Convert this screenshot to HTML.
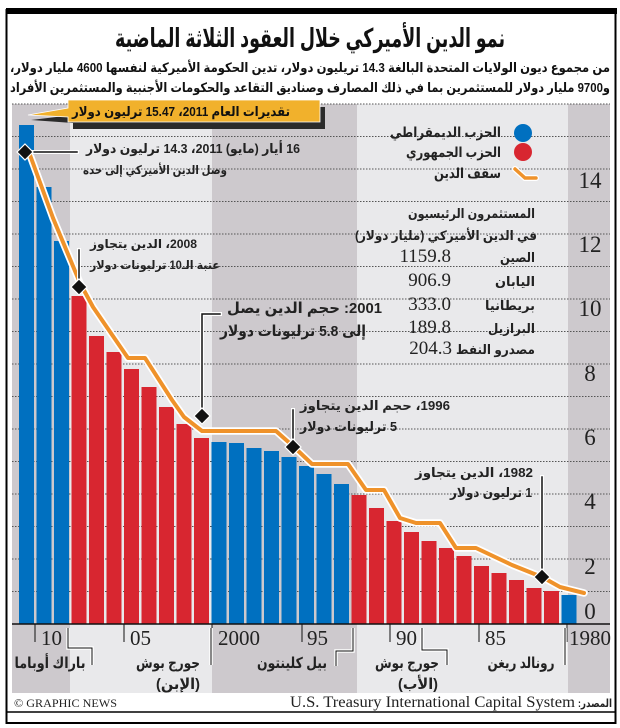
<!DOCTYPE html>
<html><head><meta charset="utf-8"><style>
html,body{margin:0;padding:0;background:#fff}
svg{display:block}
.ar{font-family:"Liberation Sans","Noto Sans CJK SC","DejaVu Sans",sans-serif;font-weight:bold}
.sr{font-family:"Liberation Serif",serif}
</style></head><body>
<svg width="620" height="728" viewBox="0 0 620 728" xmlns="http://www.w3.org/2000/svg">
<rect x="0" y="0" width="620" height="728" fill="#fff"/>
<rect x="6.5" y="10" width="609" height="713" fill="none" stroke="#000" stroke-width="2"/>
<rect x="6" y="8" width="611" height="6" fill="#000"/>
<line x1="6" y1="712" x2="616" y2="712" stroke="#000" stroke-width="1.5"/>

<text x="310" y="47" text-anchor="middle" class="ar" font-size="26" fill="#111" textLength="390" lengthAdjust="spacingAndGlyphs">نمو الدين الأميركي خلال العقود الثلاثة الماضية</text>
<text x="310" y="72" text-anchor="middle" class="ar" font-size="13" fill="#111" direction="rtl" textLength="600" lengthAdjust="spacingAndGlyphs">من مجموع ديون الولايات المتحدة البالغة 14.3 تريليون دولار، تدين الحكومة الأميركية لنفسها 4600 مليار دولار،</text>
<text x="310" y="92" text-anchor="middle" class="ar" font-size="13" fill="#111" direction="rtl" textLength="600" lengthAdjust="spacingAndGlyphs">و9700 مليار دولار للمستثمرين بما في ذلك المصارف وصناديق التقاعد والحكومات الأجنبية والمستثمرين الأفراد</text>

<rect x="12" y="104" width="58" height="589" fill="#cdc9cd"/>
<rect x="70" y="104" width="142" height="589" fill="#e9e9eb"/>
<rect x="212" y="104" width="145" height="589" fill="#cdc9cd"/>
<rect x="357" y="104" width="211" height="589" fill="#e9e9eb"/>
<rect x="568" y="104" width="42" height="589" fill="#cdc9cd"/>
<line x1="12" y1="104" x2="610" y2="104" stroke="#555" stroke-width="1" stroke-dasharray="1.5,1.5"/>

<g stroke="#555" stroke-width="1" stroke-dasharray="1.5,1.5">
<line x1="12" y1="591.5" x2="610" y2="591.5"/><line x1="12" y1="559" x2="610" y2="559"/>
<line x1="12" y1="526.5" x2="610" y2="526.5"/><line x1="12" y1="494" x2="610" y2="494"/>
<line x1="12" y1="461.5" x2="610" y2="461.5"/><line x1="12" y1="429" x2="610" y2="429"/>
<line x1="12" y1="396.5" x2="610" y2="396.5"/><line x1="12" y1="364" x2="610" y2="364"/>
<line x1="12" y1="331.5" x2="610" y2="331.5"/><line x1="12" y1="299" x2="610" y2="299"/>
<line x1="12" y1="266.5" x2="610" y2="266.5"/><line x1="12" y1="234" x2="610" y2="234"/>
<line x1="12" y1="201.5" x2="610" y2="201.5"/><line x1="12" y1="169" x2="610" y2="169"/>
<line x1="12" y1="136.5" x2="610" y2="136.5"/>
</g>

<g>
<rect x="19" y="125" width="15" height="499" fill="#0070c0"/>
<rect x="36.5" y="187" width="15" height="437" fill="#0070c0"/>
<rect x="54" y="241" width="15" height="383" fill="#0070c0"/>
<rect x="71.5" y="296" width="15" height="328" fill="#d82630"/>
<rect x="89" y="336" width="15" height="288" fill="#d82630"/>
<rect x="106.5" y="352" width="15" height="272" fill="#d82630"/>
<rect x="124" y="369" width="15" height="255" fill="#d82630"/>
<rect x="141.5" y="387" width="15" height="237" fill="#d82630"/>
<rect x="159" y="407" width="15" height="217" fill="#d82630"/>
<rect x="176.5" y="424" width="15" height="200" fill="#d82630"/>
<rect x="194" y="438" width="15" height="186" fill="#d82630"/>
<rect x="211.5" y="442" width="15" height="182" fill="#0070c0"/>
<rect x="229" y="443" width="15" height="181" fill="#0070c0"/>
<rect x="246.5" y="448" width="15" height="176" fill="#0070c0"/>
<rect x="264" y="451" width="15" height="173" fill="#0070c0"/>
<rect x="281.5" y="457" width="15" height="167" fill="#0070c0"/>
<rect x="299" y="466" width="15" height="158" fill="#0070c0"/>
<rect x="316.5" y="474" width="15" height="150" fill="#0070c0"/>
<rect x="334" y="484" width="15" height="140" fill="#0070c0"/>
<rect x="351.5" y="495" width="15" height="129" fill="#d82630"/>
<rect x="369" y="508" width="15" height="116" fill="#d82630"/>
<rect x="386.5" y="521" width="15" height="103" fill="#d82630"/>
<rect x="404" y="532" width="15" height="92" fill="#d82630"/>
<rect x="421.5" y="541" width="15" height="83" fill="#d82630"/>
<rect x="439" y="548" width="15" height="76" fill="#d82630"/>
<rect x="456.5" y="556" width="15" height="68" fill="#d82630"/>
<rect x="474" y="566" width="15" height="58" fill="#d82630"/>
<rect x="491.5" y="573" width="15" height="51" fill="#d82630"/>
<rect x="509" y="580" width="15" height="44" fill="#d82630"/>
<rect x="526.5" y="588" width="15" height="36" fill="#d82630"/>
<rect x="544" y="591" width="15" height="33" fill="#d82630"/>
<rect x="561.5" y="595" width="15" height="29" fill="#0070c0"/>
</g>

<g fill="none" stroke-linejoin="round" stroke-linecap="round">
<polyline stroke="#fff" stroke-width="7.5" points="30,155 53,218 80,283 93,307 128,358 145,358 172,400 184,417 202,431 276,431 294,447 312,464 348,464 366,490 384,490 400,518 416,523 440,523 456,548 476,548 512,565 542,577 560,587 584,593"/>
<polyline stroke="#ef922a" stroke-width="4" points="30,155 53,218 80,283 93,307 128,358 145,358 172,400 184,417 202,431 276,431 294,447 312,464 348,464 366,490 384,490 400,518 416,523 440,523 456,548 476,548 512,565 542,577 560,587 584,593"/>
</g>

<g stroke-linecap="square">
<g stroke="#fff" stroke-width="4" fill="none">
<path d="M25 152 H77"/><path d="M79 287 V250"/><path d="M202 416 V314 H220"/><path d="M293 447 V410"/><path d="M542 577 V477"/>
</g>
<g stroke="#111" stroke-width="1.5" fill="none">
<path d="M25 152 H77"/><path d="M79 287 V250"/><path d="M202 416 V314 H220"/><path d="M293 447 V410"/><path d="M542 577 V477"/>
</g>
</g>
<g fill="#111" stroke="#fff" stroke-width="1.2">
<path d="M25 144 L33 152 L25 160 L17 152 Z"/>
<path d="M79 279 L87 287 L79 295 L71 287 Z"/>
<path d="M202 408 L210 416 L202 424 L194 416 Z"/>
<path d="M293 439 L301 447 L293 455 L285 447 Z"/>
<path d="M542 569 L550 577 L542 585 L534 577 Z"/>
</g>

<path d="M70 104 L322 104 L322 126 L70 126 L70 120 L28 117 L70 112 Z" fill="#2b2b2b" transform="translate(3,3)"/>
<path d="M68 100 L320 100 L320 122 L68 122 L68 117 L28 115 L68 108 Z" fill="#f1b12c" stroke="#fff" stroke-width="0.8"/>
<text x="290" y="116" text-anchor="start" direction="rtl" class="ar" font-size="13" fill="#111" textLength="218" lengthAdjust="spacingAndGlyphs">تقديرات العام 2011، 15.47 ترليون دولار</text>

<g class="ar" fill="#222" direction="rtl" text-anchor="start" lengthAdjust="spacingAndGlyphs">
<text x="300" y="153" font-size="13" textLength="214" lengthAdjust="spacingAndGlyphs">16 أيار (مايو) 2011، 14.3 ترليون دولار</text>
<text x="227" y="174" font-size="12" textLength="144" lengthAdjust="spacingAndGlyphs">وصل الدين الأميركي إلى حده</text>
<text x="197" y="248" font-size="12" textLength="107" lengthAdjust="spacingAndGlyphs">2008، الدين يتجاوز</text>
<text x="220" y="269" font-size="12" textLength="130" lengthAdjust="spacingAndGlyphs">عتبة الـ10 ترليونات دولار</text>
<text x="382" y="313" font-size="15" textLength="155" lengthAdjust="spacingAndGlyphs">2001: حجم الدين يصل</text>
<text x="366" y="336" font-size="15" textLength="146" lengthAdjust="spacingAndGlyphs">إلى 5.8 ترليونات دولار</text>
<text x="450" y="410" font-size="13" textLength="150" lengthAdjust="spacingAndGlyphs">1996، حجم الدين يتجاوز</text>
<text x="397" y="431" font-size="13" textLength="97" lengthAdjust="spacingAndGlyphs">5 ترليونات دولار</text>
<text x="533" y="477" font-size="13" textLength="118" lengthAdjust="spacingAndGlyphs">1982، الدين يتجاوز</text>
<text x="532" y="497" font-size="13" textLength="82" lengthAdjust="spacingAndGlyphs">1 ترليون دولار</text>
</g>

<circle cx="523" cy="133" r="9" fill="#0070c0"/>
<circle cx="523" cy="152" r="9" fill="#d82630"/>
<path d="M515 169 L525 178 L536 178" fill="none" stroke="#fff" stroke-width="6" stroke-linecap="round"/>
<path d="M515 169 L525 178 L536 178" fill="none" stroke="#ef922a" stroke-width="3.5" stroke-linecap="round"/>
<g class="ar" fill="#222" direction="rtl" text-anchor="start" font-size="14">
<text x="501" y="137" textLength="111" lengthAdjust="spacingAndGlyphs">الحزب الديمقراطي</text>
<text x="501" y="157" textLength="95" lengthAdjust="spacingAndGlyphs">الحزب الجمهوري</text>
<text x="501" y="178" textLength="67" lengthAdjust="spacingAndGlyphs">سقف الدين</text>
<text x="535" y="218" font-size="13" textLength="127" lengthAdjust="spacingAndGlyphs">المستثمرون الرئيسيون</text>
<text x="537" y="240" font-size="13" textLength="182" lengthAdjust="spacingAndGlyphs">في الدين الأميركي (مليار دولار)</text>
<text x="535" y="262" font-size="13" textLength="35" lengthAdjust="spacingAndGlyphs">الصين</text>
<text x="535" y="286" font-size="13" textLength="40" lengthAdjust="spacingAndGlyphs">اليابان</text>
<text x="535" y="310" font-size="13" textLength="50" lengthAdjust="spacingAndGlyphs">بريطانيا</text>
<text x="535" y="333" font-size="13" textLength="47" lengthAdjust="spacingAndGlyphs">البرازيل</text>
<text x="535" y="354" font-size="13" textLength="79" lengthAdjust="spacingAndGlyphs">مصدرو النفط</text>
</g>
<g class="sr" fill="#222" font-size="19" text-anchor="end">
<text x="451" y="262">1159.8</text>
<text x="451" y="286">906.9</text>
<text x="451" y="310">333.0</text>
<text x="451" y="333">189.8</text>
<text x="452" y="354">204.3</text>
</g>

<g class="sr" fill="#222" font-size="23" text-anchor="middle">
<text x="590" y="188">14</text><text x="590" y="252">12</text><text x="590" y="316">10</text>
<text x="590" y="381">8</text><text x="590" y="445">6</text><text x="590" y="509">4</text>
<text x="590" y="574">2</text><text x="590" y="619">0</text>
</g>

<line x1="12" y1="624" x2="610" y2="624" stroke="#111" stroke-width="1.5"/>
<g stroke="#111" stroke-width="1">
<line x1="35" y1="624" x2="35" y2="642"/><line x1="124" y1="624" x2="124" y2="642"/>
<line x1="212" y1="624" x2="212" y2="642"/><line x1="302" y1="624" x2="302" y2="642"/>
<line x1="390" y1="624" x2="390" y2="642"/><line x1="479" y1="624" x2="479" y2="642"/>
<line x1="567" y1="624" x2="567" y2="642"/>
</g>
<g class="sr" fill="#222" font-size="21">
<text x="41" y="645">10</text><text x="130" y="645">05</text><text x="218" y="645">2000</text>
<text x="307" y="645">95</text><text x="396" y="645">90</text><text x="485" y="645">85</text>
<text x="569" y="645">1980</text>
</g>
<g fill="none" stroke="#fff" stroke-width="3.5">
<path d="M68 628 V648 H92 V665"/><path d="M211 628 V665"/><path d="M353 628 V651 H336 V666"/><path d="M422 628 V650 H447 V665"/><path d="M565 628 V665"/>
</g>
<g fill="none" stroke="#111" stroke-width="1">
<path d="M68 628 V648 H92 V665"/><path d="M211 628 V665"/><path d="M353 628 V651 H336 V666"/><path d="M422 628 V650 H447 V665"/><path d="M565 628 V665"/>
</g>
<g class="ar" fill="#222" font-size="15" text-anchor="middle">
<text x="50" y="668" textLength="71" lengthAdjust="spacingAndGlyphs">باراك أوباما</text>
<text x="168" y="668" textLength="64" lengthAdjust="spacingAndGlyphs">جورج بوش</text>
<text x="178" y="689" textLength="44" lengthAdjust="spacingAndGlyphs">(الإبن)</text>
<text x="292" y="668" textLength="70" lengthAdjust="spacingAndGlyphs">بيل كلينتون</text>
<text x="407" y="668" textLength="64" lengthAdjust="spacingAndGlyphs">جورج بوش</text>
<text x="418" y="689" textLength="40" lengthAdjust="spacingAndGlyphs">(الأب)</text>
<text x="521" y="668" textLength="67" lengthAdjust="spacingAndGlyphs">رونالد ريغن</text>
</g>

<text x="14" y="707" class="sr" font-size="12" fill="#222" textLength="103" lengthAdjust="spacingAndGlyphs">© GRAPHIC NEWS</text>
<text x="575" y="707" class="sr" font-size="16" fill="#222" text-anchor="end" textLength="285" lengthAdjust="spacingAndGlyphs">U.S. Treasury International Capital System</text>
<text x="612" y="707" class="ar" font-size="11" fill="#222" text-anchor="start" direction="rtl" textLength="34" lengthAdjust="spacingAndGlyphs">المصدر:</text>
</svg>
</body></html>
